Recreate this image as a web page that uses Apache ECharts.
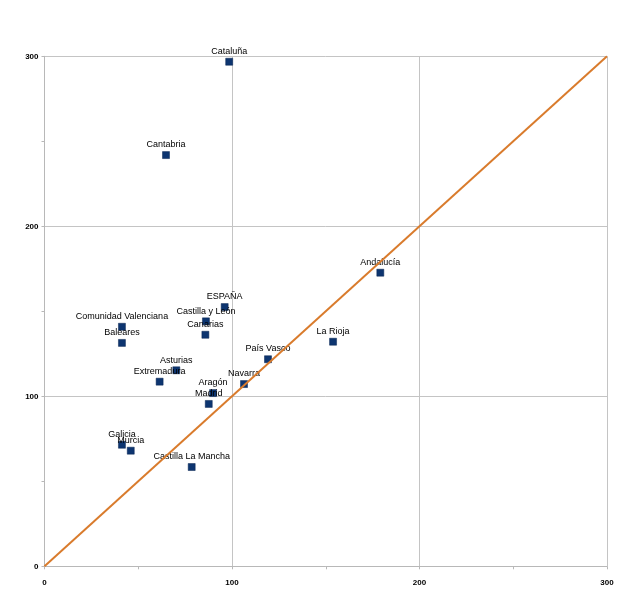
<!DOCTYPE html>
<html>
<head>
<meta charset="utf-8">
<script src="https://cdn.jsdelivr.net/npm/echarts@6/dist/echarts.min.js"></script>
<style>
  html, body { margin: 0; padding: 0; background: #fff; }
  #chart { width: 640px; height: 604px; }
</style>
</head>
<body>
<div id="chart"></div>
<script>
// regions and their (x, y) values
var names = ['Cataluña', 'Cantabria', 'ESPAÑA', 'Castilla y León', 'Comunidad Valenciana',
  'Baleares', 'Canarias', 'País Vasco', 'Asturias', 'Extremadura', 'Navarra', 'Aragón',
  'Madrid', 'Galicia', 'Murcia', 'Castilla La Mancha', 'Andalucía', 'La Rioja'];
var xValues = [98.5, 64.8, 96.1, 86.1, 41.3, 41.3, 85.8, 119.2, 70.3, 61.4, 106.4, 89.9,
  87.6, 41.3, 46.0, 78.5, 179.1, 153.9];
var yValues = [296.8, 241.9, 152.5, 144.1, 140.9, 131.4, 136.2, 121.8, 115.3, 108.6, 107.2, 101.9,
  95.5, 71.5, 68.0, 58.4, 172.7, 132.1];
var diagonal = [[0, 0], [300, 300]];

var points = names.map(function (n, i) {
  return { name: n, value: [xValues[i], yValues[i]] };
});

var axisCommon = {
  type: 'value',
  min: 0,
  max: 300,
  interval: 100,
  axisLine: { show: true, lineStyle: { color: '#b8b8b8', width: 1 } },
  axisTick: { show: true, inside: false, length: 3, lineStyle: { color: '#b8b8b8' } },
  minorTick: { show: true, splitNumber: 2, length: 3, lineStyle: { color: '#b8b8b8' } },
  splitLine: { show: true, lineStyle: { color: '#c4c4c4', width: 1 } },
  axisLabel: { color: '#000', fontSize: 8, fontFamily: 'Liberation Sans', fontWeight: 'bold' }
};

var myChart = echarts.init(document.getElementById('chart'));

var option = {
  backgroundColor: '#fff',
  animation: false,
  grid: { left: 44.5, right: 33, top: 56.3, bottom: 37.7, containLabel: false },
  xAxis: echarts.util.merge({ axisLabel: { margin: 12 } }, axisCommon, true),
  yAxis: echarts.util.merge({ axisLabel: { margin: 6 } }, axisCommon, true),
  series: [
    {
      type: 'line',
      data: diagonal,
      symbol: 'none',
      lineStyle: { color: '#d97b2c', width: 2 },
      silent: true,
      z: 3
    },
    {
      type: 'scatter',
      data: points,
      symbol: 'rect',
      symbolSize: 7,
      itemStyle: { color: '#0d3570', borderColor: '#082550', borderWidth: 0.5, opacity: 1 },
      label: {
        show: true,
        position: 'top',
        distance: 2,
        formatter: '{b}',
        color: '#000',
        fontSize: 9,
        fontFamily: 'Liberation Sans'
      },
      labelLayout: { hideOverlap: false },
      z: 2
    }
  ]
};

myChart.setOption(option);
</script>
</body>
</html>
